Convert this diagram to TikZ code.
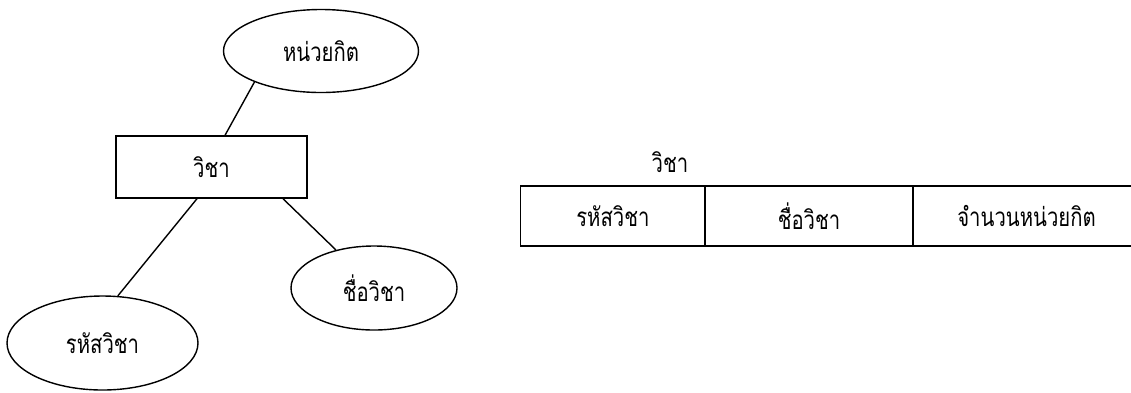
\documentclass[tikz,border=0pt]{standalone}
\usepackage{fontspec}
\newfontfamily\thaifont[Script=Thai,FakeStretch=0.78]{Loma}
\usetikzlibrary{shapes.geometric}
\begin{document}
\begin{tikzpicture}[x=1pt,y=-1pt,
  every node/.style={font=\thaifont\fontsize{26}{30}\selectfont},
  attr/.style={draw,ellipse,line width=1.4pt,inner sep=0pt},
  ent/.style={draw,rectangle,line width=1.4pt,inner sep=0pt},
  cell/.style={draw,rectangle,line width=1.4pt,inner sep=0pt,minimum height=60pt},
  link/.style={line width=1.4pt}]
\useasboundingbox (0,0) rectangle (1131,392);
\clip (0,0) rectangle (1131,392);
\node[attr,minimum width=195pt,minimum height=83pt] (unit) at (321,51) {หน่วยกิต};
\node[ent,minimum width=191pt,minimum height=62pt] (subj) at (211.5,167) {วิชา};
\node[attr,minimum width=166pt,minimum height=84pt] (name) at (374,288) {ชื่อวิชา};
\node[attr,minimum width=191pt,minimum height=94pt] (code) at (102.5,343) {รหัสวิชา};
\draw[link] (unit.205.5) -- ([xshift=13.5pt]subj.north);
\draw[link] ([xshift=-14.5pt]subj.south) -- (code.72.9);
\draw[link] ([xshift=71.5pt]subj.south) -- (name.135.7);
\node (title) at (670,162) {วิชา};
\node[cell,minimum width=184.3pt] (c1) at (612.85,216) {รหัสวิชา};
\node[cell,minimum width=208pt] (c2) at (809,216) {ชื่อวิชา};
\node[cell,minimum width=227pt] (c3) at (1026.5,216) {จำนวนหน่วยกิต};
\end{tikzpicture}
\end{document}
